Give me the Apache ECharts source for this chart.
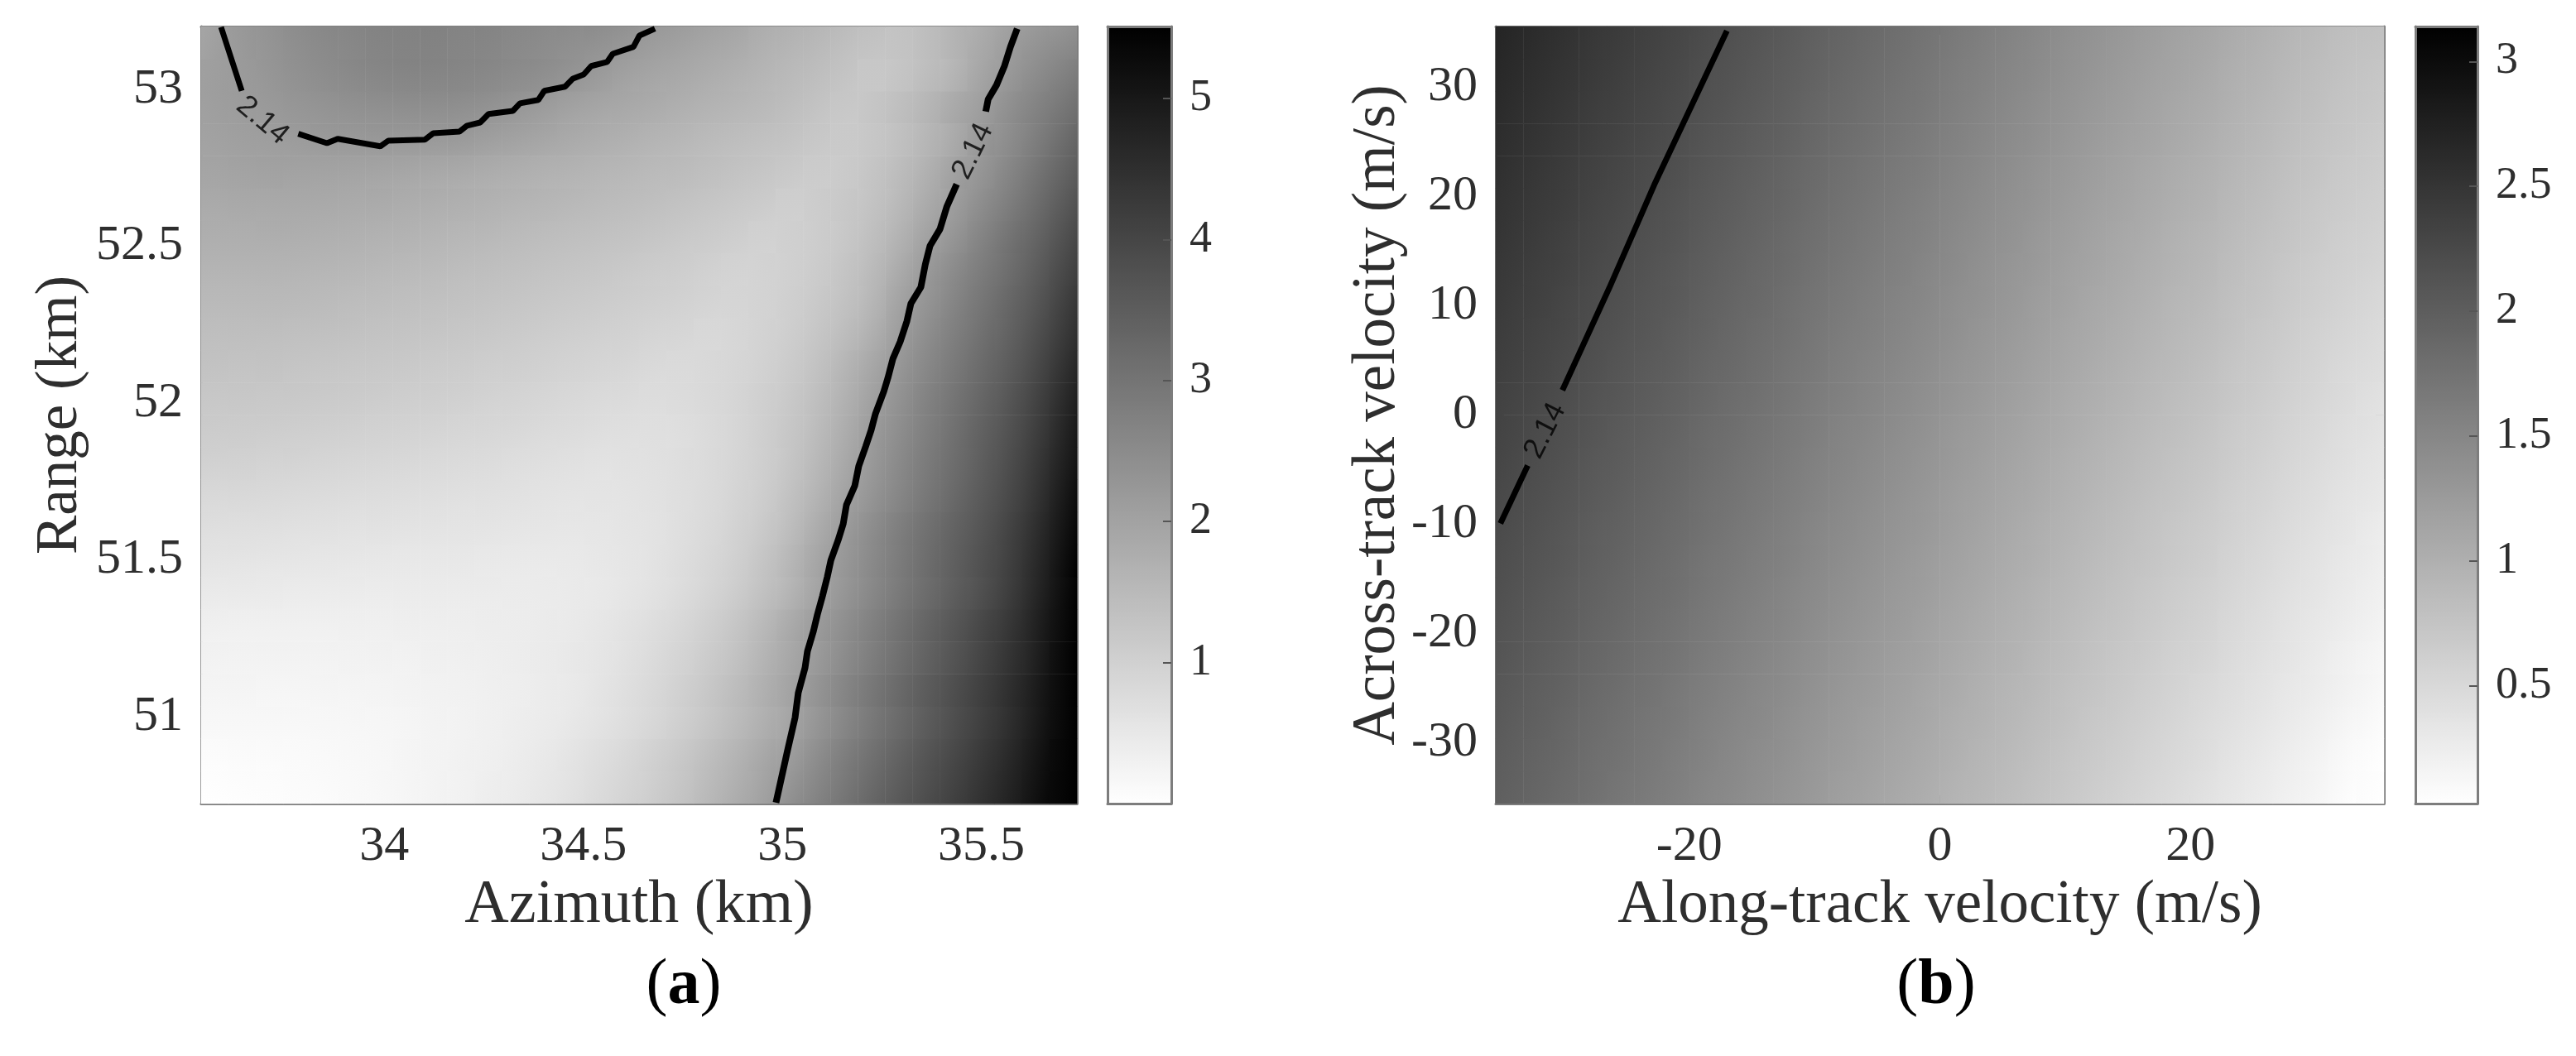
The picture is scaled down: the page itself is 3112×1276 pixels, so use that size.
<!DOCTYPE html>
<html>
<head>
<meta charset="utf-8">
<title>Chart</title>
<script src="https://cdn.jsdelivr.net/npm/echarts@6/dist/echarts.min.js"></script>
<style>
html,body{margin:0;padding:0;background:#fff}
#main{width:3112px;height:1276px}
</style>
</head>
<body>
<div id="main"></div>
<script>
// panel (a): rows run bottom to top, columns left to right
var rangeA = [
[.03,.05,.06,.08,.1,.13,.16,.2,.25,.3,.36,.43,.52,.63,.76,.9,1.06,1.25,1.47,1.72,1.98,2.3,2.62,2.93,3.23,3.52,3.8,4.08,4.38,4.72,5.12,5.5],
[.08,.09,.1,.11,.13,.15,.18,.21,.25,.29,.34,.4,.48,.58,.7,.83,.99,1.17,1.38,1.61,1.87,2.12,2.46,2.78,3.08,3.38,3.67,3.96,4.27,4.62,5.03,5.48],
[.16,.16,.16,.16,.17,.18,.2,.22,.25,.28,.32,.37,.43,.51,.61,.73,.87,1.03,1.23,1.46,1.7,1.96,2.28,2.6,2.92,3.22,3.52,3.82,4.14,4.5,4.93,5.45],
[.22,.22,.21,.21,.22,.23,.24,.26,.28,.3,.33,.37,.42,.48,.57,.7,.84,1,1.2,1.43,1.69,1.98,2.3,2.62,2.93,3.23,3.52,3.82,4.13,4.48,4.9,5.42],
[.28,.27,.27,.27,.27,.28,.29,.3,.32,.33,.36,.39,.43,.48,.55,.65,.78,.93,1.11,1.32,1.6,1.9,2.18,2.5,2.8,3.1,3.4,3.7,4.02,4.38,4.82,5.4],
[.34,.33,.33,.33,.33,.33,.34,.35,.36,.37,.38,.4,.43,.47,.53,.61,.72,.86,1.03,1.24,1.5,1.82,2.14,2.44,2.74,3.04,3.34,3.64,3.96,4.32,4.78,5.36],
[.46,.45,.44,.43,.43,.42,.42,.42,.42,.42,.42,.42,.43,.45,.49,.55,.64,.76,.91,1.1,1.34,1.62,1.98,2.28,2.58,2.88,3.18,3.48,3.8,4.18,4.68,5.28],
[.58,.57,.55,.54,.53,.52,.51,.5,.5,.49,.48,.47,.47,.48,.5,.55,.62,.72,.85,1.02,1.25,1.55,1.92,2.24,2.54,2.84,3.14,3.44,3.76,4.12,4.6,5.18],
[.7,.69,.68,.66,.65,.63,.62,.6,.59,.58,.57,.55,.54,.53,.54,.57,.62,.7,.81,.96,1.16,1.43,1.78,2.14,2.46,2.77,3.07,3.37,3.68,4.04,4.5,5.07],
[.84,.83,.81,.79,.77,.75,.73,.71,.69,.67,.65,.63,.61,.59,.58,.6,.64,.7,.79,.92,1.09,1.33,1.63,1.98,2.3,2.62,2.93,3.24,3.56,3.92,4.38,4.95],
[.98,.97,.95,.93,.9,.88,.85,.83,.8,.78,.75,.72,.69,.66,.63,.63,.66,.71,.79,.9,1.05,1.26,1.53,1.87,2.22,2.54,2.85,3.16,3.48,3.84,4.28,4.82],
[1.1,1.09,1.07,1.05,1.03,1,.97,.95,.92,.89,.86,.83,.79,.76,.72,.69,.69,.72,.79,.89,1.03,1.22,1.46,1.78,2.14,2.46,2.77,3.08,3.4,3.74,4.16,4.7],
[1.2,1.19,1.18,1.16,1.14,1.12,1.09,1.06,1.03,1,.96,.93,.89,.85,.81,.78,.75,.77,.82,.9,1.02,1.18,1.39,1.68,2.02,2.36,2.68,2.99,3.3,3.64,4.05,4.58],
[1.3,1.29,1.28,1.26,1.24,1.22,1.19,1.16,1.13,1.1,1.06,1.03,.99,.95,.91,.87,.82,.8,.83,.89,.99,1.13,1.32,1.58,1.9,2.25,2.58,2.89,3.2,3.52,3.92,4.42],
[1.4,1.39,1.38,1.37,1.35,1.33,1.3,1.27,1.24,1.21,1.17,1.13,1.09,1.05,1.01,.97,.92,.88,.85,.88,.96,1.07,1.23,1.44,1.72,2.1,2.45,2.77,3.08,3.4,3.78,4.25],
[1.5,1.5,1.5,1.49,1.47,1.44,1.41,1.38,1.35,1.32,1.28,1.24,1.2,1.16,1.12,1.07,1.03,.98,.93,.91,.95,1.03,1.16,1.33,1.58,1.98,2.3,2.64,2.96,3.28,3.64,4.1],
[1.62,1.62,1.62,1.61,1.59,1.57,1.54,1.5,1.47,1.43,1.39,1.35,1.31,1.26,1.22,1.17,1.12,1.07,1.01,.95,.96,1.02,1.11,1.26,1.48,1.82,2.17,2.5,2.82,3.14,3.5,3.92],
[1.74,1.74,1.75,1.74,1.72,1.7,1.67,1.64,1.6,1.56,1.52,1.47,1.43,1.38,1.34,1.29,1.24,1.18,1.12,1.06,1,1.02,1.09,1.2,1.38,1.65,2,2.3,2.66,3,3.34,3.75],
[1.84,1.85,1.86,1.86,1.85,1.83,1.81,1.78,1.74,1.7,1.66,1.61,1.57,1.52,1.47,1.42,1.37,1.31,1.25,1.18,1.11,1.05,1.1,1.18,1.31,1.52,1.82,2.12,2.46,2.8,3.16,3.55],
[1.96,1.98,2,2,1.99,1.98,1.96,1.92,1.88,1.84,1.79,1.74,1.69,1.64,1.59,1.54,1.49,1.44,1.38,1.31,1.24,1.17,1.12,1.15,1.26,1.44,1.7,2.02,2.3,2.62,2.98,3.35],
[2.02,2.06,2.1,2.14,2.18,2.2,2.21,2.21,2.19,2.16,2.08,2,1.92,1.84,1.76,1.69,1.62,1.55,1.48,1.41,1.36,1.28,1.2,1.16,1.22,1.36,1.57,1.84,2.2,2.48,2.8,3.15],
[2.08,2.14,2.2,2.27,2.33,2.38,2.41,2.43,2.43,2.41,2.34,2.25,2.14,2.02,1.94,1.87,1.8,1.72,1.65,1.58,1.5,1.41,1.3,1.2,1.24,1.38,1.58,1.85,2.1,2.4,2.68,2.95],
[2.1,2.17,2.27,2.37,2.46,2.54,2.6,2.63,2.63,2.6,2.55,2.49,2.42,2.3,2.17,2.04,1.95,1.87,1.78,1.7,1.6,1.5,1.4,1.28,1.2,1.27,1.42,1.62,1.95,2.22,2.48,2.72],
[2.05,2.2,2.32,2.44,2.53,2.6,2.66,2.68,2.68,2.65,2.62,2.56,2.5,2.43,2.36,2.26,2.14,2.04,1.95,1.86,1.72,1.62,1.52,1.4,1.3,1.3,1.42,1.62,1.85,2.1,2.3,2.45]
];
// panel (b): rows run bottom to top, columns left to right
var velocityB = [
[1.96,1.9,1.84,1.77,1.71,1.65,1.59,1.52,1.46,1.4,1.34,1.27,1.21,1.15,1.09,1.03,.96,.9,.84,.78,.71,.65,.59,.53,.47,.41,.34,.28,.22,.16,.09,.03],
[1.99,1.93,1.87,1.8,1.74,1.68,1.62,1.55,1.49,1.43,1.37,1.3,1.24,1.18,1.12,1.06,.99,.93,.87,.81,.74,.68,.62,.56,.5,.44,.37,.31,.25,.19,.12,.06],
[2.02,1.96,1.9,1.83,1.77,1.71,1.65,1.58,1.52,1.46,1.4,1.33,1.27,1.21,1.15,1.09,1.02,.96,.9,.84,.77,.71,.65,.59,.53,.47,.41,.35,.29,.23,.16,.1],
[2.05,1.99,1.93,1.86,1.8,1.74,1.68,1.61,1.55,1.49,1.43,1.36,1.3,1.24,1.18,1.12,1.05,.99,.93,.87,.8,.74,.68,.62,.56,.5,.44,.38,.32,.26,.2,.14],
[2.08,2.02,1.96,1.89,1.83,1.77,1.71,1.64,1.58,1.52,1.46,1.39,1.33,1.27,1.21,1.15,1.08,1.02,.96,.9,.83,.77,.71,.65,.59,.54,.47,.41,.35,.29,.22,.16],
[2.11,2.05,1.99,1.92,1.86,1.8,1.74,1.67,1.61,1.55,1.49,1.42,1.36,1.3,1.24,1.18,1.11,1.05,.99,.93,.86,.8,.74,.68,.62,.57,.5,.44,.38,.32,.26,.2],
[2.14,2.08,2.02,1.95,1.89,1.83,1.77,1.7,1.64,1.58,1.52,1.45,1.39,1.33,1.27,1.21,1.14,1.08,1.02,.96,.89,.83,.77,.71,.65,.6,.53,.47,.41,.35,.29,.23],
[2.17,2.11,2.05,1.98,1.92,1.86,1.8,1.73,1.67,1.61,1.55,1.48,1.42,1.36,1.3,1.24,1.17,1.11,1.05,.99,.92,.86,.8,.74,.68,.63,.56,.5,.44,.38,.32,.26],
[2.2,2.14,2.08,2.01,1.95,1.89,1.83,1.76,1.7,1.64,1.58,1.51,1.45,1.39,1.33,1.27,1.2,1.14,1.08,1.02,.95,.89,.83,.77,.71,.66,.59,.53,.47,.41,.35,.29],
[2.23,2.17,2.11,2.04,1.98,1.92,1.86,1.79,1.73,1.67,1.61,1.54,1.48,1.42,1.36,1.3,1.23,1.17,1.11,1.05,.98,.92,.86,.8,.74,.69,.62,.56,.5,.44,.38,.33],
[2.26,2.2,2.14,2.07,2.01,1.95,1.89,1.82,1.76,1.7,1.64,1.57,1.51,1.45,1.39,1.33,1.26,1.2,1.14,1.08,1.01,.95,.89,.83,.77,.72,.65,.59,.53,.47,.41,.36],
[2.29,2.23,2.17,2.1,2.04,1.98,1.92,1.85,1.79,1.73,1.67,1.6,1.54,1.48,1.42,1.36,1.29,1.23,1.17,1.11,1.04,.98,.92,.86,.8,.75,.68,.62,.56,.5,.44,.39],
[2.32,2.26,2.2,2.13,2.07,2.01,1.95,1.88,1.82,1.76,1.7,1.63,1.57,1.51,1.45,1.39,1.32,1.26,1.2,1.14,1.07,1.01,.95,.89,.83,.78,.71,.65,.59,.53,.47,.42],
[2.35,2.29,2.23,2.16,2.1,2.04,1.98,1.91,1.85,1.79,1.73,1.66,1.6,1.54,1.48,1.42,1.35,1.29,1.23,1.17,1.1,1.04,.98,.92,.86,.81,.74,.68,.62,.56,.5,.46],
[2.38,2.32,2.26,2.19,2.13,2.07,2.01,1.94,1.88,1.82,1.76,1.69,1.63,1.57,1.51,1.45,1.38,1.32,1.26,1.2,1.13,1.07,1.01,.95,.89,.84,.77,.71,.65,.59,.54,.49],
[2.41,2.35,2.29,2.22,2.16,2.1,2.04,1.97,1.91,1.85,1.79,1.72,1.66,1.6,1.54,1.48,1.41,1.35,1.29,1.23,1.16,1.1,1.04,.98,.92,.87,.8,.74,.68,.62,.57,.52],
[2.44,2.38,2.32,2.25,2.19,2.13,2.07,2,1.94,1.88,1.82,1.75,1.69,1.63,1.57,1.51,1.44,1.38,1.32,1.26,1.19,1.13,1.07,1.01,.95,.9,.83,.77,.71,.65,.6,.56],
[2.47,2.41,2.35,2.28,2.22,2.16,2.1,2.03,1.97,1.91,1.85,1.78,1.72,1.66,1.6,1.54,1.47,1.41,1.35,1.29,1.22,1.16,1.1,1.04,.98,.93,.86,.8,.74,.68,.63,.59],
[2.5,2.44,2.38,2.31,2.25,2.19,2.13,2.06,2,1.94,1.88,1.81,1.75,1.69,1.63,1.57,1.5,1.44,1.38,1.32,1.25,1.19,1.13,1.07,1.01,.96,.89,.83,.77,.71,.66,.62],
[2.53,2.47,2.41,2.34,2.28,2.22,2.16,2.09,2.03,1.97,1.91,1.84,1.78,1.72,1.66,1.6,1.53,1.47,1.41,1.35,1.28,1.22,1.16,1.1,1.04,.99,.92,.86,.8,.74,.69,.65],
[2.56,2.5,2.44,2.37,2.31,2.25,2.19,2.12,2.06,2,1.94,1.87,1.81,1.75,1.69,1.63,1.56,1.5,1.44,1.38,1.31,1.25,1.19,1.13,1.07,1.02,.95,.89,.83,.77,.72,.68],
[2.59,2.53,2.47,2.4,2.34,2.28,2.22,2.15,2.09,2.03,1.97,1.9,1.84,1.78,1.72,1.66,1.59,1.53,1.47,1.41,1.34,1.28,1.22,1.16,1.1,1.05,.98,.92,.86,.8,.75,.71],
[2.62,2.56,2.5,2.43,2.37,2.31,2.25,2.18,2.12,2.06,2,1.93,1.87,1.81,1.75,1.69,1.62,1.56,1.5,1.44,1.37,1.31,1.25,1.19,1.13,1.08,1.01,.95,.89,.83,.78,.74],
[2.65,2.59,2.53,2.46,2.4,2.34,2.28,2.21,2.15,2.09,2.03,1.96,1.9,1.84,1.78,1.72,1.65,1.59,1.53,1.47,1.4,1.34,1.28,1.22,1.16,1.11,1.04,.98,.92,.86,.81,.78]
];

// contour 2.14, null = gap left for the label
var contourA1X = [33.590,33.642,null,33.784,33.856,33.883,33.990,34.010,34.102,34.123,34.189,34.208,34.241,34.262,34.323,34.341,34.387,34.402,34.454,34.474,34.501,34.520,34.560,34.574,34.626,34.641,34.680];
var contourA1Y = [53.198,52.995,null,52.858,52.828,52.842,52.818,52.836,52.839,52.860,52.865,52.884,52.894,52.921,52.931,52.955,52.966,52.995,53.008,53.034,53.047,53.074,53.087,53.113,53.135,53.171,53.193];
var contourA2X = [35.590,35.573,35.558,35.538,35.517,35.511,null,35.438,35.413,35.396,35.371,35.359,35.348,35.323,35.313,35.296,35.278,35.265,35.255,35.234,35.223,35.209,35.192,35.182,35.161,35.153,35.140,35.122,35.113,35.101,35.088,35.078,35.063,35.057,35.040,35.032,35.013,34.984];
var contourA2Y = [53.193,53.135,53.074,53.013,52.968,52.929,null,52.697,52.625,52.554,52.501,52.441,52.369,52.317,52.261,52.195,52.142,52.079,52.037,51.966,51.913,51.860,51.799,51.736,51.675,51.615,51.562,51.499,51.446,51.385,51.325,51.272,51.208,51.156,51.076,50.997,50.892,50.726];
var contourBX = [-17.0,-22.8,-26.4,-30.13,null,-32.9,-35.08];
var contourBY = [35.15,21.06,11.6,2.27,null,-4.62,-9.92];

var ticksAX = [34,34.5,35,35.5];
var ticksAY = [51,51.5,52,52.5,53];
var ticksBX = [-20,0,20];
var ticksBY = [-30,-20,-10,0,10,20,30];
var barTicksA = [1,2,3,4,5];
var barTicksB = [0.5,1,1.5,2,2.5,3];

var serif = 'Liberation Serif';
var textColor = '#2e2e2e';
var myChart = echarts.init(document.getElementById('main'), null, {renderer:'canvas'});

function gray(v,min,max){
    var g = Math.round(255*(1-(v-min)/(max-min)));
    g = Math.max(0,Math.min(255,g));
    return 'rgb('+g+','+g+','+g+')';
}
// each cell is filled along the local slope of the values, so the field does not look blocky
function cells(rows,min,max,cellW,cellH){
    var out = [];
    for(var j=0;j<rows.length;j++){
        for(var i=0;i<rows[j].length;i++){
            var row = rows[j];
            var gx = (row[Math.min(i+1,row.length-1)]-row[Math.max(i-1,0)])/(i===0||i===row.length-1?1:2);
            var gy = -(rows[Math.min(j+1,rows.length-1)][i]-rows[Math.max(j-1,0)][i])/(j===0||j===rows.length-1?1:2);
            var spread = Math.abs(gx)+Math.abs(gy);
            var px = gx/cellW, py = gy/cellH;
            var len2 = px*px+py*py;
            var fill = gray(row[i],min,max);
            if(len2>0){
                var dx = px*spread/len2/cellW, dy = py*spread/len2/cellH;
                fill = {type:'linear',x:.5-dx/2,y:.5-dy/2,x2:.5+dx/2,y2:.5+dy/2,colorStops:[
                    {offset:0,color:gray(row[i]-spread/2,min,max)},
                    {offset:1,color:gray(row[i]+spread/2,min,max)}
                ]};
            }
            out.push({value:[i,j,row[i]],itemStyle:{color:fill}});
        }
    }
    return out;
}
function pairs(xs,ys){
    return xs.map(function(x,i){ return x===null ? [null,null] : [x,ys[i]]; });
}
function indexes(n){
    var a=[];
    for(var i=0;i<n;i++) a.push(i);
    return a;
}
// one visible value axis of a panel; labels only on the left/bottom one
function valueAxis(grid,pos,min,max,ticks,labelled,name,gap,nameSize,fontSize){
    var isY = pos==='left'||pos==='right';
    return {
        type:'value',gridIndex:grid,position:pos,min:min,max:max,
        name:name||'',nameLocation:'middle',nameGap:gap||0,
        nameTextStyle:{fontFamily:serif,fontSize:nameSize||70,color:textColor},
        splitLine:{show:false},
        axisLine:{show:true,onZero:false,lineStyle:{color:'#7d7d7d',width:3}},
        axisTick:{show:ticks.length>0,inside:true,length:10,customValues:ticks,lineStyle:{color:'#555',width:2}},
        axisLabel:{show:labelled,margin:22,customValues:ticks,fontFamily:serif,fontSize:fontSize||60,color:textColor,hideOverlap:false,
            padding:isY?[fontSize?12:8,0,0,0]:0}
    };
}
function hiddenAxis(grid,n){
    return {type:'category',gridIndex:grid,show:false,data:indexes(n)};
}
function contour(name,x,y,points,width){
    return {name:name,type:'line',xAxisIndex:x,yAxisIndex:y,data:points,symbol:'none',connectNulls:false,silent:true,
        lineStyle:{color:'#000',width:width},z:5};
}
function contourLabel(x,y,point,rot){
    return {type:'scatter',xAxisIndex:x,yAxisIndex:y,data:[point],symbolSize:1,itemStyle:{color:'rgba(0,0,0,0)'},silent:true,z:6,
        label:{show:true,position:'inside',formatter:'2.14',rotate:rot,fontFamily:'Liberation Sans',fontSize:36,color:'#000'}};
}

var option = {
    animation:false,
    backgroundColor:'#fff',
    grid:[
        {left:243,top:32,width:1058,height:939},
        {left:1338,top:32,width:77,height:939},
        {left:1807,top:32,width:1073,height:939},
        {left:2918,top:32,width:75,height:939}
    ],
    xAxis:[
        valueAxis(0,'bottom',33.54,35.74,ticksAX,true,'Azimuth (km)',84,74),
        valueAxis(0,'top',33.54,35.74,ticksAX,false),
        hiddenAxis(0,32),
        valueAxis(1,'bottom',0,1,[],false),
        valueAxis(1,'top',0,1,[],false),
        valueAxis(2,'bottom',-35.45,35.45,ticksBX,true,'Along-track velocity (m/s)',84,73),
        valueAxis(2,'top',-35.45,35.45,ticksBX,false),
        hiddenAxis(2,32),
        valueAxis(3,'bottom',0,1,[],false),
        valueAxis(3,'top',0,1,[],false)
    ],
    yAxis:[
        valueAxis(0,'left',50.723,53.2,ticksAY,true,'Range (km)',134,71),
        valueAxis(0,'right',50.723,53.2,ticksAY,false),
        hiddenAxis(0,24),
        valueAxis(1,'left',0,5.51,[],false),
        valueAxis(1,'right',0,5.51,barTicksA,true,'',0,0,54),
        valueAxis(2,'left',-35.55,35.55,ticksBY,true,'Across-track velocity (m/s)',96,73),
        valueAxis(2,'right',-35.55,35.55,ticksBY,false),
        hiddenAxis(2,24),
        valueAxis(3,'left',0.03,3.14,[],false),
        valueAxis(3,'right',0.03,3.14,barTicksB,true,'',0,0,54)
    ],
    visualMap:[
        {type:'continuous',seriesIndex:[],min:0,max:5.51,left:1338,top:32,itemWidth:77,itemHeight:939,padding:0,
            calculable:false,hoverLink:false,text:null,showLabel:false,z:0,inRange:{color:['#ffffff','#000000']},textStyle:{fontSize:0}},
        {type:'continuous',seriesIndex:[],min:0.03,max:3.14,left:2918,top:32,itemWidth:75,itemHeight:939,padding:0,
            calculable:false,hoverLink:false,text:null,showLabel:false,z:0,inRange:{color:['#ffffff','#000000']},textStyle:{fontSize:0}}
    ],
    series:[
        {name:'a',type:'heatmap',xAxisIndex:2,yAxisIndex:2,data:cells(rangeA,0,5.51,1058/32,939/24),progressive:0,silent:true,z:1},
        {name:'b',type:'heatmap',xAxisIndex:7,yAxisIndex:7,data:cells(velocityB,0.03,3.14,1073/32,939/24),progressive:0,silent:true,z:1},
        contour('c1',0,0,pairs(contourA1X,contourA1Y),7),
        contour('c2',0,0,pairs(contourA2X,contourA2Y),8),
        contour('c3',5,5,pairs(contourBX,contourBY),7),
        contourLabel(0,0,[33.694,52.90],-40),
        contourLabel(0,0,[35.479,52.802],64),
        contourLabel(5,5,[-31.5,-1.44],63)
    ],
    title:[
        {text:'({b|a})',left:821,top:1148,textAlign:'center',textStyle:{fontFamily:serif,fontWeight:'normal',fontSize:78,color:'#000',rich:{b:{fontFamily:serif,fontWeight:'bold',fontSize:78,color:'#000'}}}},
        {text:'({b|b})',left:2334,top:1148,textAlign:'center',textStyle:{fontFamily:serif,fontWeight:'normal',fontSize:78,color:'#000',rich:{b:{fontFamily:serif,fontWeight:'bold',fontSize:78,color:'#000'}}}}
    ],
    // the axis titles are cut off at the bottom in the original figure
    graphic:[
        {type:'rect',z:50,silent:true,shape:{x:500,y:1130,width:560,height:18},style:{fill:'#fff'}},
        {type:'rect',z:50,silent:true,shape:{x:1900,y:1130,width:900,height:18},style:{fill:'#fff'}}
    ]
};
myChart.setOption(option);
</script>
</body>
</html>
